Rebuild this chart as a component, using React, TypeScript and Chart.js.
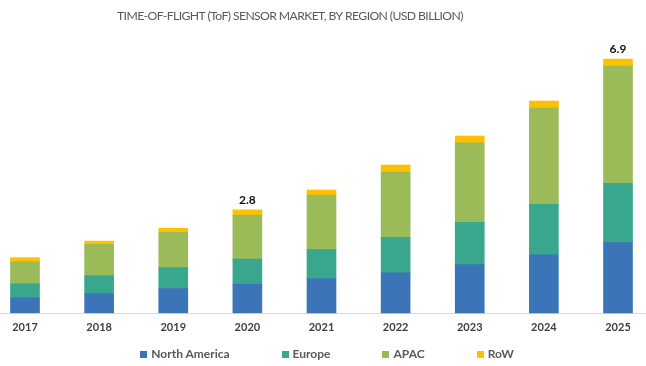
import React, { useEffect, useRef } from "react";
import { Chart, registerables } from "chart.js";

Chart.register(...registerables);

const years = ["2017", "2018", "2019", "2020", "2021", "2022", "2023", "2024", "2025"];
const northAmerica = [0.41, 0.52, 0.66, 0.78, 0.93, 1.09, 1.31, 1.58, 1.91];
const europe = [0.38, 0.49, 0.57, 0.68, 0.79, 0.96, 1.15, 1.37, 1.61];
const apac = [0.6, 0.85, 0.96, 1.2, 1.48, 1.78, 2.16, 2.62, 3.19];
const row = [0.11, 0.09, 0.11, 0.14, 0.14, 0.19, 0.19, 0.19, 0.19];
const totalLabels = ["", "", "", "2.8", "", "", "", "", "6.9"];

const seriesNames = ["North America", "Europe", "APAC", "RoW"];
const seriesColors = ["#3c75b7", "#39a78e", "#9bbb59", "#ffc000"];
const titleText = "TIME-OF-FLIGHT (ToF) SENSOR MARKET, BY REGION (USD BILLION)";

const FONT = "Lato, 'Open Sans', sans-serif";

export default function App() {
  const ref = useRef<HTMLCanvasElement | null>(null);

  useEffect(() => {
    if (!ref.current) return;
    const extras = {
      id: "extras",
      beforeDatasetsDraw(chart: any) {
        const ctx = chart.ctx;
        const area = chart.chartArea;
        ctx.save();
        ctx.strokeStyle = "#d9d9d9";
        ctx.lineWidth = 1;
        ctx.beginPath();
        ctx.moveTo(0, Math.round(area.bottom) + 0.5);
        ctx.lineTo(chart.width, Math.round(area.bottom) + 0.5);
        ctx.stroke();
        ctx.restore();
      },
      afterDatasetsDraw(chart: any) {
        const ctx = chart.ctx;
        ctx.save();
        ctx.fillStyle = "#595959";
        ctx.textAlign = "left";
        ctx.textBaseline = "middle";
        ctx.font = `13px 'Liberation Sans Narrow', Lato, sans-serif`;
        if (ctx.measureText(titleText).width > 365) {
          ctx.font = `12.2px ${FONT}`;
          (ctx as any).letterSpacing = "-0.6px";
        }
        ctx.fillText(titleText, 117, 16);
        (ctx as any).letterSpacing = "0px";
        const meta = chart.getDatasetMeta(3);
        ctx.font = `bold 12px ${FONT}`;
        ctx.fillStyle = "#111111";
        ctx.textAlign = "center";
        totalLabels.forEach((t, i) => {
          if (!t) return;
          const el = meta.data[i];
          ctx.fillText(t, el.x, el.y - 10);
        });
        ctx.restore();
      },
    };
    const datasets = [northAmerica, europe, apac, row].map((d, i) => ({
      label: seriesNames[i],
      data: d,
      backgroundColor: seriesColors[i],
      borderWidth: 0,
      barThickness: 29,
      clip: false as any,
    }));
    const chart = new Chart(ref.current, {
      type: "bar",
      data: { labels: years, datasets },
      options: {
        animation: false,
        responsive: false,
        layout: { padding: { left: 25, right: 28, top: 40, bottom: 24 } },
        plugins: { legend: { display: false }, tooltip: { enabled: false } },
        scales: {
          x: {
            stacked: true,
            offset: false,
            grid: { display: false, drawTicks: false },
            border: { display: false },
            ticks: { font: { family: FONT, size: 11, weight: "bold" }, color: "#404040", padding: 8, maxRotation: 0 },
          },
          y: { stacked: true, display: false, min: 0, max: 7.42 },
        },
      },
      plugins: [extras],
    });
    return () => chart.destroy();
  }, []);

  return (
    <div style={{ position: "absolute", left: 0, top: 0, width: 646, height: 366, background: "#fff" }}>
      <canvas ref={ref} width={646} height={366} style={{ position: "absolute", left: 0, top: 0 }} />
      <div
        style={{
          position: "absolute",
          left: 4,
          top: 346,
          width: 646,
          display: "flex",
          justifyContent: "center",
          gap: 52,
          fontFamily: FONT,
          fontSize: 12,
          fontWeight: "bold",
          color: "#595959",
          lineHeight: "16px",
        }}
      >
        {seriesNames.map((n, i) => (
          <span key={n} style={{ display: "flex", alignItems: "center" }}>
            <span style={{ display: "inline-block", width: 7, height: 7, background: seriesColors[i], marginRight: 4 }} />
            {n}
          </span>
        ))}
      </div>
    </div>
  );
}
